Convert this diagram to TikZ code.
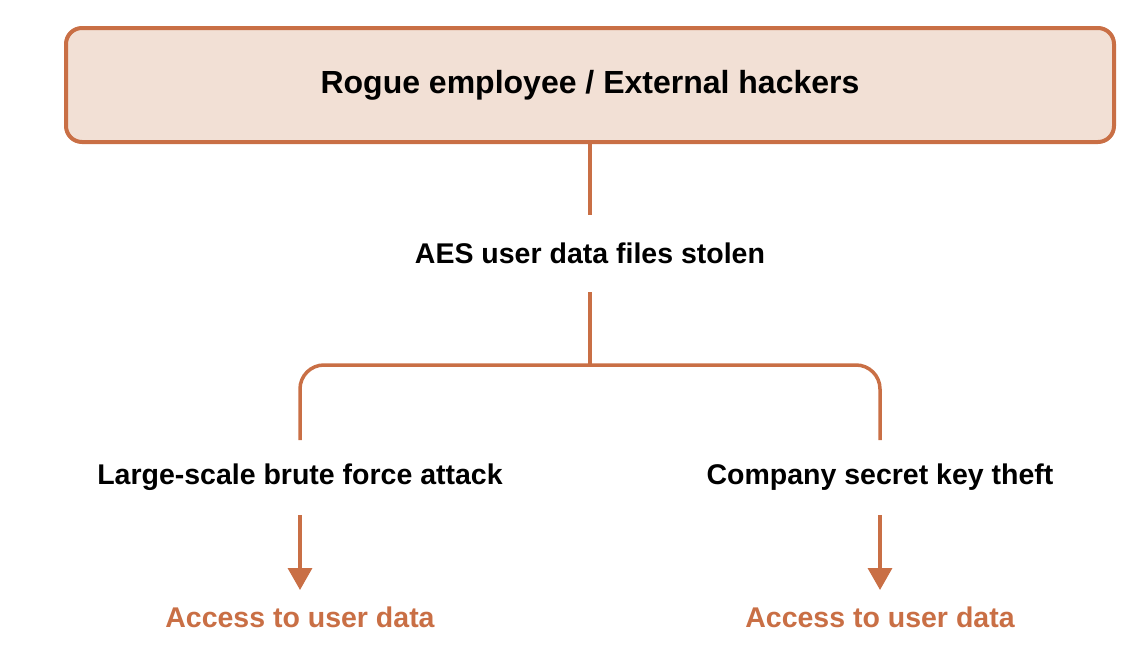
\documentclass[tikz,border=0pt]{standalone}
\usepackage{fontspec}
\setmainfont{Liberation Sans}
\usetikzlibrary{arrows.meta}
\definecolor{rust}{HTML}{C96F45}
\definecolor{peach}{HTML}{F2E0D5}
\begin{document}
\begin{tikzpicture}[x=1pt,y=-1pt,
  conn/.style={draw=rust,line width=3.5pt},
  lbl/.style={font=\bfseries\fontsize{28.5}{32}\selectfont,text=black},
  acc/.style={font=\bfseries\fontsize{28.5}{32}\selectfont,text=rust}]
\useasboundingbox (0,0) rectangle (1136,656);
\node[draw=rust,fill=peach,line width=4pt,rounded corners=16pt,minimum width=1048pt,minimum height=114pt,
  font=\bfseries\fontsize{32}{36}\selectfont] (top) at (590,85) {Rogue employee / External hackers};
\node[lbl] (aes) at (590,253) {AES user data files stolen};
\node[lbl] (bf) at (300,477) {Large-scale brute force attack};
\node[lbl] (ks) at (880,477) {Company secret key theft};
\node[acc] (a1) at (300,617) {Access to user data};
\node[acc] (a2) at (880,617) {Access to user data};
\coordinate (j) at (590,365);
\draw[conn] (top.south) -- (590,215);
\draw[conn] (590,292) -- (j);
\draw[conn,rounded corners=24pt] (300,440) -- (300,365) -- (880,365) -- (880,440);
\draw[conn,-{Triangle[length=22pt,width=24pt]}] (300,515) -- (300,590);
\draw[conn,-{Triangle[length=22pt,width=24pt]}] (880,515) -- (880,590);
\end{tikzpicture}
\end{document}
